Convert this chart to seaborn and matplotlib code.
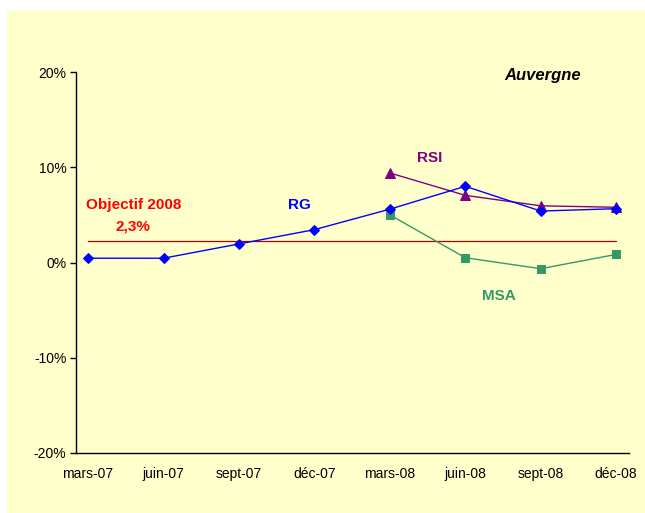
import matplotlib
matplotlib.use("Agg")
import matplotlib.pyplot as plt
import seaborn as sns
import pandas as pd
import numpy as np
from matplotlib.patches import Rectangle
from matplotlib.ticker import FuncFormatter

categories = ["mars-07", "juin-07", "sept-07", "déc-07", "mars-08", "juin-08", "sept-08", "déc-08"]
rg = [0.45, 0.45, 1.95, 3.45, 5.6, 8.0, 5.4, 5.65]
rsi = [np.nan, np.nan, np.nan, np.nan, 9.4, 7.05, 5.95, 5.8]
msa = [np.nan, np.nan, np.nan, np.nan, 5.0, 0.5, -0.65, 0.85]
objectif = 2.3

sns.set_theme(style="white")
plt.rcParams['font.family'] = ['Liberation Sans Narrow', 'Liberation Sans', 'DejaVu Sans']

bg = "#FFFFCC"
fig = plt.figure(figsize=(6.45, 5.13), dpi=100)
fig.patch.set_facecolor("white")
fig.patches.append(Rectangle((7/645, 0), 1, 1 - 10/513, transform=fig.transFigure,
                             facecolor=bg, edgecolor="none", zorder=-10))

ax = fig.add_axes([76/645, 1 - 453/513, (629 - 76)/645, (453 - 72)/513])
ax.set_facecolor(bg)
ax.patch.set_alpha(0)

x = np.arange(len(categories))
df = pd.DataFrame({"x": x, "RG": rg, "RSI": rsi, "MSA": msa})

ax.plot(x, [objectif] * len(x), color="#B00000", lw=0.9, zorder=1)
sns.lineplot(data=df, x="x", y="MSA", ax=ax, color="#339966", marker="s", markersize=6,
             markeredgecolor="#339966", lw=1.0)
sns.lineplot(data=df, x="x", y="RSI", ax=ax, color="#800080", marker="^", markersize=7,
             markeredgecolor="#800080", lw=1.0)
sns.lineplot(data=df, x="x", y="RG", ax=ax, color="#0000FF", marker="D", markersize=5.5,
             markeredgecolor="#0000FF", lw=1.0)

ax.set_xlim(-0.16, 7.17)
ax.set_ylim(-20, 20)
ax.set_yticks([-20, -10, 0, 10, 20])
ax.yaxis.set_major_formatter(FuncFormatter(lambda v, p: f"{int(v)}%"))
ax.set_xticks(x)
ax.set_xticklabels(categories)
ax.set_xlabel("")
ax.set_ylabel("")

for s in ["top", "right"]:
    ax.spines[s].set_visible(False)
for s in ["left", "bottom"]:
    ax.spines[s].set_color("black")
    ax.spines[s].set_linewidth(1.0)
ax.tick_params(axis="y", which="major", left=True, length=4, width=1, color="black",
               labelsize=10, pad=3, labelcolor="black")
ax.tick_params(axis="x", which="major", bottom=False, length=0, labelsize=10, pad=10,
               labelcolor="black")

ax.text(6.03, 19.6, "Auvergne", fontsize=12, fontweight="bold", fontstyle="italic",
        ha="center", va="center", color="black")
ax.text(4.53, 11.0, "RSI", fontsize=11, fontweight="bold", color="#800080", ha="center", va="center")
ax.text(2.8, 6.0, "RG", fontsize=11, fontweight="bold", color="#0000FF", ha="center", va="center")
ax.text(5.45, -3.5, "MSA", fontsize=11, fontweight="bold", color="#339966", ha="center", va="center")
ax.text(0.6, 6.0, "Objectif 2008", fontsize=11, fontweight="bold", color="#FF0000", ha="center", va="center")
ax.text(0.6, 3.8, "2,3%", fontsize=11, fontweight="bold", color="#FF0000", ha="center", va="center")

fig.savefig("out.png", dpi=100, facecolor=fig.get_facecolor())
